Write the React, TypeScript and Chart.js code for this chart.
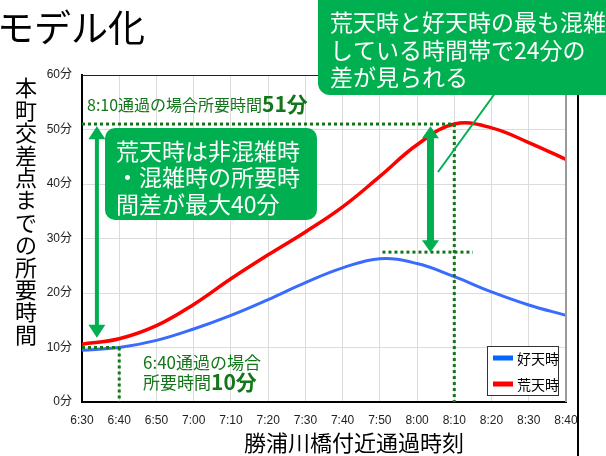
import { useEffect, useRef } from "react";
import { Chart, registerables } from "chart.js";

Chart.register(...registerables);

// Passing time at the Katsuura River bridge (every 10 minutes)
const timeLabels = [
  "6:30", "6:40", "6:50", "7:00", "7:10", "7:20", "7:30",
  "7:40", "7:50", "8:00", "8:10", "8:20", "8:30", "8:40",
];

// Travel time to the Honmachi intersection, minutes
const fineWeatherMinutes = [9.5, 10.0, 11.3, 13.4, 15.9, 18.8, 21.9, 24.6, 26.3, 25.4, 23.0, 20.2, 17.8, 15.9];
const stormyWeatherMinutes = [10.6, 11.6, 14.0, 17.9, 22.6, 27.0, 31.2, 35.8, 41.4, 47.2, 51.0, 50.3, 47.6, 44.5];

const seriesNames = ["好天時", "荒天時"];
const yTickValues = [0, 10, 20, 30, 40, 50, 60];

const headline = "モデル化";
const yAxisTitle = "本町交差点までの所要時間";
const xAxisTitle = "勝浦川橋付近通過時刻";
const calloutTop = ["荒天時と好天時の最も混雑", "している時間帯で24分の", "差が見られる"];
const calloutLeft = ["荒天時は非混雑時", "・混雑時の所要時", "間差が最大40分"];

// Reference points called out on the chart
const peakIndex = 10; // 8:10
const offPeakIndex = 1; // 6:40
const peakMinutes = stormyWeatherMinutes[peakIndex];
const offPeakMinutes = fineWeatherMinutes[offPeakIndex];
const fineWeatherPeakLevel = 27.5;

const FONT_JP = '"Noto Sans CJK JP", sans-serif';
const FONT_TICK = '"Liberation Sans", "Noto Sans CJK JP", sans-serif';
const GREEN = "#00b050";
const DARK_GREEN = "#14761a";
const BLUE = "#3a6bff";
const RED = "#ff0000";

function verticalArrow(
  ctx: CanvasRenderingContext2D,
  cx: number,
  top: number,
  bottom: number,
  shaft: number,
  headW: number,
  headL: number
) {
  ctx.fillStyle = GREEN;
  ctx.fillRect(cx - shaft / 2, top + headL - 1, shaft, bottom - top - 2 * headL + 2);
  ctx.beginPath();
  ctx.moveTo(cx, top);
  ctx.lineTo(cx + headW / 2, top + headL);
  ctx.lineTo(cx - headW / 2, top + headL);
  ctx.closePath();
  ctx.fill();
  ctx.beginPath();
  ctx.moveTo(cx, bottom);
  ctx.lineTo(cx + headW / 2, bottom - headL);
  ctx.lineTo(cx - headW / 2, bottom - headL);
  ctx.closePath();
  ctx.fill();
}

function segment(ctx: CanvasRenderingContext2D, x1: number, y1: number, x2: number, y2: number) {
  ctx.beginPath();
  ctx.moveTo(x1, y1);
  ctx.lineTo(x2, y2);
  ctx.stroke();
}

const decorations = {
  id: "decorations",
  afterDatasetsDraw(chart: any) {
    const { ctx, chartArea: a } = chart;
    const x = chart.scales.x;
    const y = chart.scales.y;
    ctx.save();

    // plot frame: thin top edge and grey right edge
    ctx.strokeStyle = "#222";
    ctx.lineWidth = 1;
    segment(ctx, a.left, a.top + 0.5, a.right, a.top + 0.5);
    ctx.strokeStyle = "#9a9a9a";
    ctx.lineWidth = 2;
    segment(ctx, a.right, a.top, a.right, a.bottom);

    // dotted guide lines
    ctx.strokeStyle = DARK_GREEN;
    ctx.lineWidth = 3;
    ctx.setLineDash([3, 3]);
    const yPeak = y.getPixelForValue(peakMinutes);
    const xPeak = x.getPixelForValue(peakIndex);
    segment(ctx, a.left, yPeak, xPeak, yPeak);
    segment(ctx, xPeak, yPeak, xPeak, a.bottom);
    const yOff = y.getPixelForValue(offPeakMinutes);
    const xOff = x.getPixelForValue(offPeakIndex);
    segment(ctx, a.left, yOff, xOff, yOff);
    segment(ctx, xOff, yOff, xOff, a.bottom);
    const yGap = y.getPixelForValue(fineWeatherPeakLevel);
    segment(ctx, x.getPixelForValue(8.07), yGap, x.getPixelForValue(10.5), yGap);
    ctx.setLineDash([]);

    // double-headed arrows
    verticalArrow(ctx, x.getPixelForValue(0.4), y.getPixelForValue(50.6), y.getPixelForValue(11.8), 4, 17, 13);
    verticalArrow(ctx, x.getPixelForValue(9.36), y.getPixelForValue(50.6), yGap, 7, 17, 12);

    ctx.restore();
  },
  afterDraw(chart: any) {
    const { ctx, chartArea: a } = chart;
    ctx.save();

    // headline (continues off the left edge)
    ctx.fillStyle = "#000";
    ctx.font = `37px ${FONT_JP}`;
    ctx.textBaseline = "middle";
    ctx.textAlign = "left";
    ctx.fillText(headline, -3, 28);

    // vertical y-axis title
    ctx.font = `22px ${FONT_JP}`;
    ctx.textAlign = "center";
    [...yAxisTitle].forEach((ch, i) => ctx.fillText(ch, 26, 88 + i * 22.4));

    // x-axis title
    ctx.fillText(xAxisTitle, (a.left + a.right) / 2 + 30, 443);

    // slide divider on the right
    ctx.fillStyle = "#000";
    ctx.fillRect(577, 93, 2, 456 - 93);

    // leader line from the top callout
    ctx.strokeStyle = GREEN;
    ctx.lineWidth = 2;
    segment(ctx, 438, 172, 496, 92);

    // top callout box
    ctx.fillStyle = GREEN;
    ctx.beginPath();
    ctx.roundRect(318, -20, 320, 115, 12);
    ctx.fill();
    ctx.fillStyle = "#fff";
    ctx.font = `23px ${FONT_JP}`;
    ctx.textAlign = "left";
    [22, 50, 77].forEach((ty, i) => ctx.fillText(calloutTop[i], 330, ty));

    // left callout box
    ctx.fillStyle = GREEN;
    ctx.beginPath();
    ctx.roundRect(105, 128, 212, 92, 10);
    ctx.fill();
    ctx.fillStyle = "#fff";
    [151, 177.5, 204].forEach((ty, i) => ctx.fillText(calloutLeft[i], 116, ty));

    // peak annotation
    ctx.fillStyle = DARK_GREEN;
    ctx.font = `16px ${FONT_JP}`;
    const peakLead = `${timeLabels[peakIndex]}通過の場合所要時間`;
    ctx.fillText(peakLead, 87, 105);
    const w1 = ctx.measureText(peakLead).width;
    ctx.font = `bold 21px ${FONT_JP}`;
    ctx.fillText(`${peakMinutes}分`, 87 + w1, 104);

    // off-peak annotation
    ctx.font = `17px ${FONT_JP}`;
    ctx.fillText(`${timeLabels[offPeakIndex]}通過の場合`, 143, 363);
    const offLead = "所要時間";
    ctx.fillText(offLead, 143, 383);
    const w2 = ctx.measureText(offLead).width;
    ctx.font = `bold 21px ${FONT_JP}`;
    ctx.fillText(`${offPeakMinutes}分`, 143 + w2, 382);

    // legend
    ctx.fillStyle = "#fff";
    ctx.fillRect(487, 346, 72, 50);
    ctx.strokeStyle = "#333";
    ctx.lineWidth = 1;
    ctx.strokeRect(487.5, 346.5, 71, 49);
    const swatches = [
      { color: "#0066ff", y: 358 },
      { color: RED, y: 384 },
    ];
    ctx.font = `14px ${FONT_JP}`;
    swatches.forEach((s, i) => {
      ctx.fillStyle = s.color;
      ctx.fillRect(493, s.y - 2.5, 20, 5);
      ctx.fillStyle = "#000";
      ctx.fillText(seriesNames[i], 517, s.y + 1);
    });

    ctx.restore();
  },
};

export default function App() {
  const canvasRef = useRef<HTMLCanvasElement | null>(null);

  useEffect(() => {
    const canvas = canvasRef.current;
    if (!canvas) return;
    const chart = new Chart(canvas, {
      type: "line",
      data: {
        labels: timeLabels,
        datasets: [
          {
            label: seriesNames[0],
            data: fineWeatherMinutes,
            borderColor: BLUE,
            borderWidth: 3,
            pointRadius: 0,
            tension: 0.4,
          },
          {
            label: seriesNames[1],
            data: stormyWeatherMinutes,
            borderColor: RED,
            borderWidth: 3.5,
            pointRadius: 0,
            tension: 0.4,
          },
        ],
      },
      options: {
        responsive: false,
        animation: false,
        devicePixelRatio: 1,
        layout: { padding: { top: 75, right: 40, left: 0, bottom: 0 } },
        plugins: {
          legend: { display: false },
          tooltip: { enabled: false },
        },
        scales: {
          x: {
            afterFit: (s: any) => {
              s.height = 54;
            },
            grid: { color: "#dcdcdc", lineWidth: 1, drawTicks: false },
            border: { color: "#000", width: 2 },
            ticks: {
              padding: 11,
              autoSkip: false,
              maxRotation: 0,
              color: "#222",
              font: { family: FONT_TICK, size: 12 },
            },
          },
          y: {
            min: 0,
            max: 60,
            afterFit: (s: any) => {
              s.width = 82;
            },
            afterBuildTicks: (s: any) => {
              s.ticks = yTickValues.map((v) => ({ value: v }));
            },
            grid: { color: "#dcdcdc", lineWidth: 1, drawTicks: false },
            border: { color: "#000", width: 2 },
            ticks: {
              padding: 10,
              color: "#222",
              font: { family: FONT_TICK, size: 12 },
              callback: (v: any) => `${v}分`,
            },
          },
        },
      },
      plugins: [decorations],
    });
    return () => chart.destroy();
  }, []);

  return (
    <div style={{ position: "fixed", left: 0, top: 0, width: 606, height: 456, background: "#fff", overflow: "hidden" }}>
      <canvas ref={canvasRef} width={606} height={456} style={{ display: "block" }} />
    </div>
  );
}
